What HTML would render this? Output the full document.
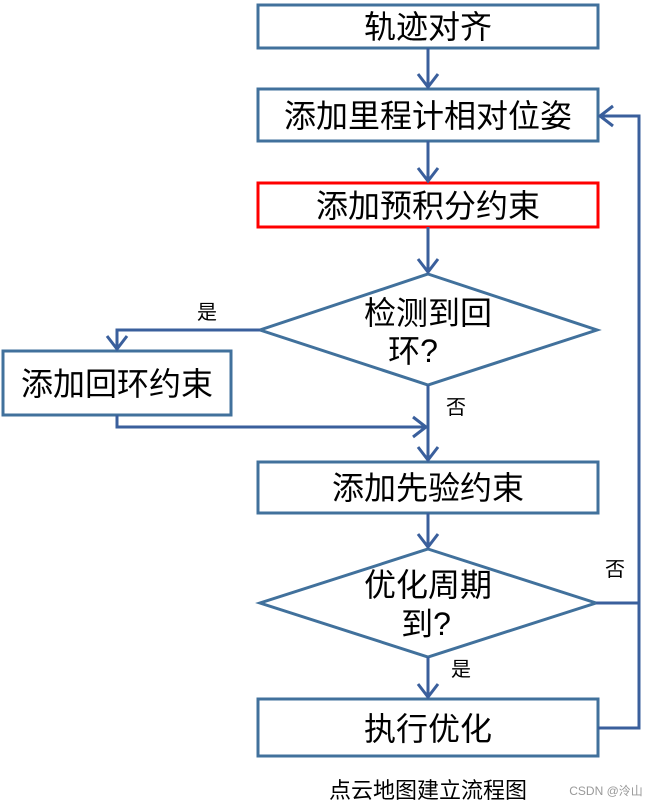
<!DOCTYPE html>
<html><head><meta charset="utf-8"><style>
html,body{margin:0;padding:0;background:#fff;width:654px;height:805px;overflow:hidden}
svg text{font-family:"Liberation Sans","Noto Sans CJK SC",sans-serif;fill:#000}
</style></head><body>
<svg width="654" height="805" viewBox="0 0 654 805" xmlns="http://www.w3.org/2000/svg">
<g fill="#fff" stroke="#41719c" stroke-width="3">
<rect x="258" y="5" width="340" height="43"/>
<rect x="258" y="89" width="340" height="52"/>
<rect x="258" y="183" width="340" height="44" stroke="#ff0000"/>
<polygon points="428,274 597,330 428,385 260,330"/>
<rect x="3" y="351" width="228" height="64"/>
<rect x="258" y="462" width="340" height="51"/>
<polygon points="428,549 596,603 428,657 260,603"/>
<rect x="258" y="699" width="340" height="57"/>
</g>
<g fill="none" stroke="#3a5f9c" stroke-width="3">
<path d="M428 48V87M418 74L428 87L438 74"/>
<path d="M428 141V181M418 168L428 181L438 168"/>
<path d="M428 227V272M418 259L428 272L438 259"/>
<path d="M260 330H117V349M107 336L117 349L127 336"/>
<path d="M117 415V427H426M413 417L426 427L413 437"/>
<path d="M428 385V460M418 447L428 460L438 447"/>
<path d="M428 513V547M418 534L428 547L438 534"/>
<path d="M428 657V697M418 684L428 697L438 684"/>
<path d="M596 603H639"/>
<path d="M598 728H639V116H600M613 106L600 116L613 126"/>
</g>
<g font-size="32" text-anchor="middle">
<text x="428" y="38">轨迹对齐</text>
<text x="428" y="127">添加里程计相对位姿</text>
<text x="428" y="217">添加预积分约束</text>
<text x="428" y="324">检测到回</text>
<text x="413" y="362">环?</text>
<text x="117" y="395">添加回环约束</text>
<text x="428" y="499">添加先验约束</text>
<text x="428" y="596">优化周期</text>
<text x="426" y="635">到?</text>
<text x="428" y="740">执行优化</text>
</g>
<g font-size="20" text-anchor="middle">
<text x="207" y="319">是</text>
<text x="456" y="414">否</text>
<text x="615" y="576">否</text>
<text x="461" y="676">是</text>
<text x="428" y="798" font-size="22">点云地图建立流程图</text>
</g>
<text x="606" y="795" font-size="12" text-anchor="middle" style="fill:#999">CSDN @泠山</text>
</svg>
</body></html>
